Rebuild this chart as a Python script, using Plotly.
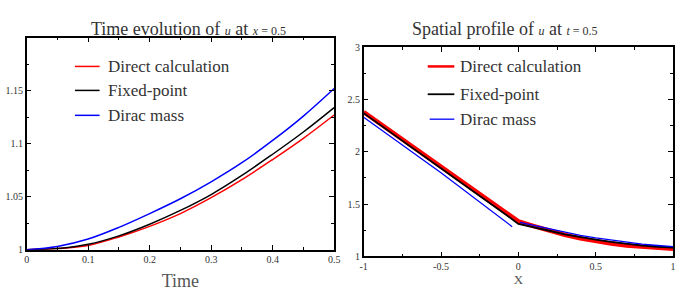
import plotly.graph_objects as go

# ---- Left panel: time evolution of u at x = 0.5 ----
t_vals = [0.0, 0.05, 0.1, 0.15, 0.2, 0.25, 0.3, 0.35, 0.4, 0.45, 0.5]
u_direct_t = [1.000, 1.001, 1.004, 1.012, 1.022, 1.034, 1.049, 1.066, 1.085, 1.105, 1.127]
u_fixed_t = [1.000, 1.001, 1.005, 1.013, 1.024, 1.037, 1.052, 1.070, 1.090, 1.111, 1.134]
u_dirac_t = [1.000, 1.003, 1.010, 1.021, 1.034, 1.048, 1.064, 1.082, 1.103, 1.126, 1.152]

# ---- Right panel: spatial profile of u at t = 0.5 ----
x_direct = [-1.0, -0.5, -0.1, -0.05, 0.0, 0.1, 0.2, 0.3, 0.4, 0.5, 0.6, 0.7, 0.8, 0.9, 1.0]
u_direct_x = [2.38, 1.86, 1.44, 1.385, 1.335, 1.29, 1.245, 1.205, 1.172, 1.145, 1.122, 1.103, 1.09, 1.08, 1.072]
x_fixed = [-1.0, -0.5, -0.1, 0.0, 0.1, 0.2, 0.3, 0.4, 0.5, 0.6, 0.7, 0.8, 0.9, 1.0]
u_fixed_x = [2.37, 1.845, 1.42, 1.31, 1.28, 1.245, 1.21, 1.182, 1.16, 1.138, 1.118, 1.103, 1.092, 1.085]
x_dirac = [-1.0, -0.5, -0.04, None, 0.01, 0.1, 0.2, 0.3, 0.4, 0.5, 0.6, 0.7, 0.8, 0.9, 1.0]
u_dirac_x = [2.33, 1.80, 1.284, None, 1.325, 1.295, 1.26, 1.228, 1.2, 1.177, 1.155, 1.135, 1.118, 1.104, 1.093]

series_names = ["Direct calculation", "Fixed-point", "Dirac mass"]
colors = ["#ff0000", "#000000", "#0000ff"]

FONT = "Liberation Serif, serif"
TXT = "#333333"

fig = go.Figure()

fig.add_trace(go.Scatter(x=t_vals, y=u_direct_t, mode="lines", line=dict(color=colors[0], width=1.5, shape="spline"), xaxis="x", yaxis="y", showlegend=False))
fig.add_trace(go.Scatter(x=t_vals, y=u_fixed_t, mode="lines", line=dict(color=colors[1], width=1.5, shape="spline"), xaxis="x", yaxis="y", showlegend=False))
fig.add_trace(go.Scatter(x=t_vals, y=u_dirac_t, mode="lines", line=dict(color=colors[2], width=1.5, shape="spline"), xaxis="x", yaxis="y", showlegend=False))

fig.add_trace(go.Scatter(x=x_direct, y=u_direct_x, mode="lines", line=dict(color=colors[0], width=4.5), xaxis="x2", yaxis="y2", showlegend=False))
fig.add_trace(go.Scatter(x=x_fixed, y=u_fixed_x, mode="lines", line=dict(color=colors[1], width=1.8), xaxis="x2", yaxis="y2", showlegend=False))
fig.add_trace(go.Scatter(x=x_dirac, y=u_dirac_x, mode="lines", line=dict(color=colors[2], width=1.3), xaxis="x2", yaxis="y2", showlegend=False, connectgaps=False))

axis_common = dict(showline=True, linecolor="black", linewidth=1.5, mirror="allticks",
                   ticks="inside", ticklen=5, tickwidth=1, tickcolor="black",
                   showgrid=False, zeroline=False,
                   tickfont=dict(family=FONT, size=10, color=TXT))

fig.update_layout(
    width=684, height=294, autosize=False,
    margin=dict(l=0, r=0, t=0, b=0),
    paper_bgcolor="white", plot_bgcolor="white",
    xaxis=dict(domain=[0.0336, 0.4898], range=[0, 0.5], anchor="y",
               tickvals=[0, 0.1, 0.2, 0.3, 0.4, 0.5], ticktext=["0", "0.1", "0.2", "0.3", "0.4", "0.5"],
               minor=dict(tickvals=[0.05, 0.15, 0.25, 0.35, 0.45], ticks="inside", ticklen=3, tickcolor="black"),
               title=dict(text="Time", font=dict(family=FONT, size=18, color="#555555"), standoff=10),
               **axis_common),
    yaxis=dict(domain=[0.136, 0.8878], range=[1, 1.2], anchor="x",
               tickvals=[1, 1.05, 1.1, 1.15], ticktext=["1", "1.05", "1.1", "1.15"],
               minor=dict(tickvals=[1.025, 1.075, 1.125, 1.175], ticks="inside", ticklen=3, tickcolor="black"),
               **axis_common),
    xaxis2=dict(domain=[0.5336, 0.9927], range=[-1, 1], anchor="y2",
                tickvals=[-1, -0.5, 0, 0.5, 1], ticktext=["-1", "-0.5", "0", "0.5", "1"],
                minor=dict(tickvals=[-0.75, -0.25, 0.25, 0.75], ticks="inside", ticklen=3, tickcolor="black"),
                title=dict(text="X", font=dict(family=FONT, size=13, color="#555555"), standoff=2),
                **axis_common),
    yaxis2=dict(domain=[0.1122, 0.8537], range=[1, 3], anchor="x2",
                tickvals=[1, 1.5, 2, 2.5, 3], ticktext=["1", "1.5", "2", "2.5", "3"],
                minor=dict(tickvals=[1.25, 1.75, 2.25, 2.75], ticks="inside", ticklen=3, tickcolor="black"),
                **axis_common),
)

# Titles
fig.add_annotation(xref="paper", yref="paper", x=187.5 / 684, y=1 - 24 / 294, xanchor="center", yanchor="middle",
                   text="Time evolution of <span style='font-size:12px'><i>u</i></span> at <span style='font-size:12px'><i>x</i> = 0.5</span>",
                   showarrow=False, font=dict(family=FONT, size=18, color=TXT))
fig.add_annotation(xref="paper", yref="paper", x=508 / 684, y=1 - 24 / 294, xanchor="center", yanchor="middle",
                   text="Spatial profile of <span style='font-size:12px'><i>u</i></span> at <span style='font-size:12px'><i>t</i> = 0.5</span>",
                   showarrow=False, font=dict(family=FONT, size=18, color=TXT))

# Manual legends
left_leg = [(72, 97, 104, 63), (72, 97, 104, 88), (72, 97, 104, 114)]
right_leg = [(430, 457, 461, 63), (430, 457, 461, 92), (432, 457, 461, 118)]
for leg, widths in ((left_leg, [1.5, 1.5, 1.5]), (right_leg, [2.5, 1.8, 1.3])):
    for i, (x0, x1, xt, yy) in enumerate(leg):
        yp = 1 - yy / 294
        fig.add_shape(type="line", xref="paper", yref="paper", x0=x0 / 684, x1=x1 / 684, y0=yp, y1=yp,
                      line=dict(color=colors[i], width=widths[i]))
        fig.add_annotation(xref="paper", yref="paper", x=xt / 684, y=yp, xanchor="left", yanchor="middle",
                           text=series_names[i], showarrow=False, font=dict(family=FONT, size=17, color=TXT))

fig.write_html("out.html")
